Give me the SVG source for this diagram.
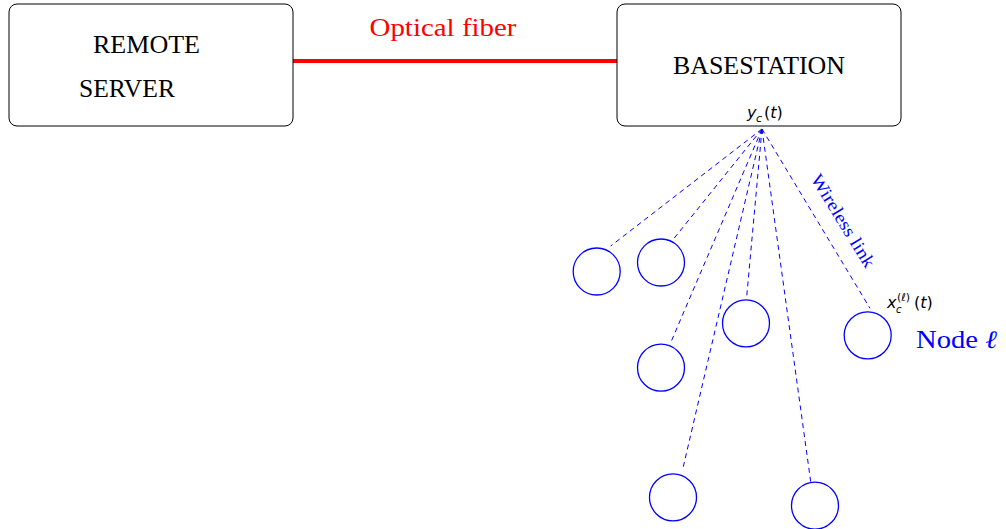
<svg xmlns="http://www.w3.org/2000/svg" width="1006" height="529" viewBox="0 0 1006 529">
  <style>
    .box { fill: #ffffff; stroke: #000000; stroke-width: 1; }
    .lbl { font-family: "Liberation Serif", "Times New Roman", serif; font-size: 25px; fill: #000000; }
    .math { font-family: "DejaVu Sans", "Liberation Sans", sans-serif; fill: #000000; }
    .it { font-style: italic; }
    .node { fill: none; stroke: #0000ff; stroke-width: 1.3; }
    .link { stroke: #0000ff; stroke-width: 1; stroke-dasharray: 5 4; fill: none; }
    .blue { font-family: "Liberation Serif", "Times New Roman", serif; fill: #0000ff; }
  </style>
  <rect width="1006" height="529" fill="#ffffff"/>

  <!-- wired and wireless links -->
  <g id="connectors">
    <line x1="293" y1="61" x2="617" y2="61" stroke="#ff0000" stroke-width="4"/>
    <text x="443" y="36" text-anchor="middle" class="blue" style="fill:#ff0000" font-size="25" textLength="147" lengthAdjust="spacingAndGlyphs">Optical fiber</text>
    <line class="link" x1="762" y1="129" x2="610.7" y2="246"/>
    <line class="link" x1="762" y1="129" x2="673.3" y2="239.3"/>
    <line class="link" x1="762" y1="129" x2="670" y2="344.3"/>
    <line class="link" x1="762" y1="129" x2="746.7" y2="296.7"/>
    <line class="link" x1="762" y1="129" x2="870" y2="308.3"/>
    <line class="link" x1="762" y1="129" x2="683.3" y2="466.7"/>
    <line class="link" x1="762" y1="129" x2="810.7" y2="481.7"/>
    <text class="blue" font-size="18" text-anchor="middle" textLength="106" lengthAdjust="spacingAndGlyphs" transform="translate(838 224) rotate(58.5)">Wireless link</text>
  </g>

  <g id="remote-server">
    <rect class="box" x="9" y="4" width="284" height="122" rx="8"/>
    <text class="lbl" x="93" y="53" textLength="107" lengthAdjust="spacingAndGlyphs">REMOTE</text>
    <text class="lbl" x="79" y="97" textLength="96" lengthAdjust="spacingAndGlyphs">SERVER</text>
  </g>

  <g id="basestation">
    <rect class="box" x="617" y="4" width="284" height="122" rx="8"/>
    <text class="lbl" x="673" y="74" textLength="172" lengthAdjust="spacingAndGlyphs">BASESTATION</text>
    <text class="math it" x="747" y="118" font-size="16">y</text>
    <text class="math it" x="756" y="122" font-size="11">c</text>
    <text class="math" x="764" y="118" font-size="16">(<tspan class="it">t</tspan>)</text>
  </g>

  <g id="node-1"><circle class="node" cx="596.7" cy="271.5" r="23.5"/></g>
  <g id="node-2"><circle class="node" cx="661" cy="262.5" r="23.5"/></g>
  <g id="node-3"><circle class="node" cx="661" cy="367.7" r="23.5"/></g>
  <g id="node-4"><circle class="node" cx="746" cy="323.3" r="23.5"/></g>
  <g id="node-5">
    <circle class="node" cx="867.7" cy="335.3" r="23.5"/>
    <text class="math it" x="887" y="308" font-size="16">x</text>
    <text class="math it" x="896" y="313" font-size="10">c</text>
    <text class="math" x="897" y="301" font-size="11">(<tspan class="it">ℓ</tspan>)</text>
    <text class="math" x="914" y="308" font-size="16">(<tspan class="it">t</tspan>)</text>
    <text class="blue" x="916" y="348" font-size="25" textLength="81" lengthAdjust="spacingAndGlyphs">Node <tspan font-style="italic">ℓ</tspan></text>
  </g>
  <g id="node-6"><circle class="node" cx="673" cy="497.3" r="23.5"/></g>
  <g id="node-7"><circle class="node" cx="815" cy="505.7" r="23.5"/></g>
</svg>
